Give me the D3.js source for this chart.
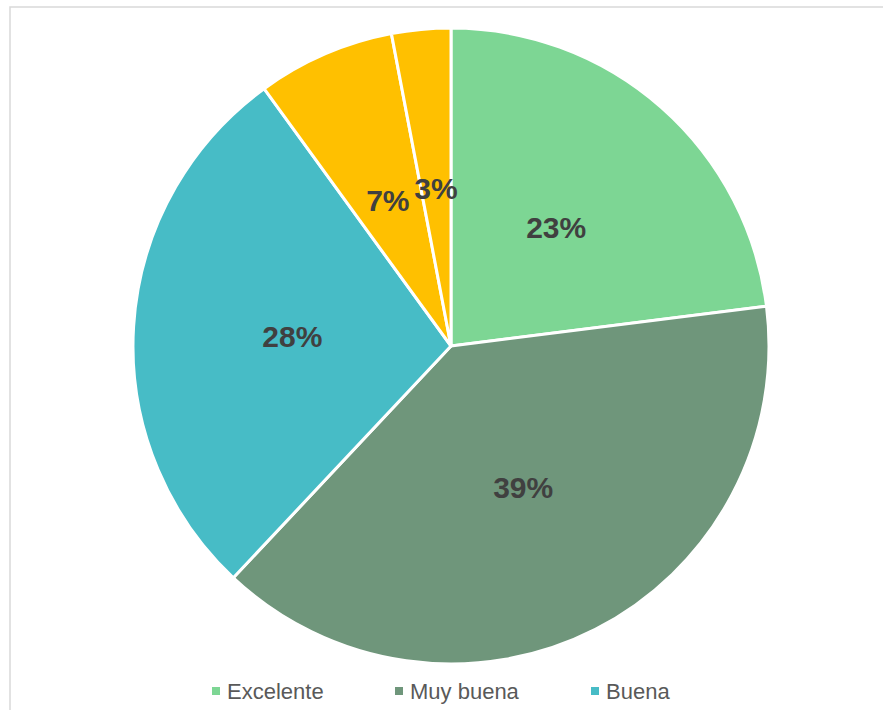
<!DOCTYPE html>
<meta charset="utf-8">
<style>
    body { margin: 0; background: #fff; }
    text { font-family: "Liberation Sans", Arial, sans-serif; }
    .label { font-weight: bold; font-size: 30px; fill: #404040; }
    .legend text { font-size: 22px; fill: #595959; }
</style>
<body>
<svg width="883" height="710"></svg>
<script src="https://d3js.org/d3.v7.min.js"></script>
<script>
    // data
    var categories = ["Excelente", "Muy buena", "Buena", "Regular", "Mala"];
    var values = [23, 39, 28, 7, 3];
    var colors = ["#7dd694", "#6f967b", "#47bcc6", "#ffc000", "#ffc000"];
    var legendShown = ["Excelente", "Muy buena", "Buena"];

    var svg = d3.select("svg"),
        width = +svg.attr("width"),
        height = +svg.attr("height");

    // chart frame (cut off on the right and bottom, as in the original)
    svg.append("rect")
        .attr("x", 10).attr("y", 7)
        .attr("width", width + 20).attr("height", height + 20)
        .attr("fill", "#fff")
        .attr("stroke", "#d9d9d9")
        .attr("stroke-width", 1.5);

    var cx = 451, cy = 346, radius = 318;
    var g = svg.append("g").attr("transform", "translate(" + cx + "," + cy + ")");

    var data = categories.map(function (c, i) { return { name: c, value: values[i], color: colors[i] }; });

    var pie = d3.pie().sort(null).value(function (d) { return d.value; });
    var arc = d3.arc().innerRadius(0).outerRadius(radius);
    var labelArc = d3.arc().innerRadius(radius * 0.5).outerRadius(radius * 0.5);

    var slices = g.selectAll(".slice")
        .data(pie(data))
        .enter().append("g")
        .attr("class", "slice");

    slices.append("path")
        .attr("d", arc)
        .attr("fill", function (d) { return d.data.color; })
        .attr("stroke", "#fff")
        .attr("stroke-width", 3)
        .attr("stroke-linejoin", "round");

    slices.append("text")
        .attr("class", "label")
        .attr("transform", function (d) { return "translate(" + labelArc.centroid(d) + ")"; })
        .attr("text-anchor", "middle")
        .attr("dy", "0.36em")
        .text(function (d) { return d.data.value + "%"; });

    // legend, only the entries that fit on the visible line
    var legendX = d3.scaleOrdinal().domain(legendShown).range([212, 395, 591]);
    var legend = svg.append("g").attr("class", "legend")
        .selectAll("g")
        .data(data.filter(function (d) { return legendShown.indexOf(d.name) >= 0; }))
        .enter().append("g")
        .attr("transform", function (d) { return "translate(" + legendX(d.name) + ",691)"; });

    legend.append("rect")
        .attr("x", 0).attr("y", -4)
        .attr("width", 8).attr("height", 8)
        .attr("fill", function (d) { return d.color; });

    legend.append("text")
        .attr("x", 15)
        .attr("dy", "0.36em")
        .text(function (d) { return d.name; });
</script>
</body>
